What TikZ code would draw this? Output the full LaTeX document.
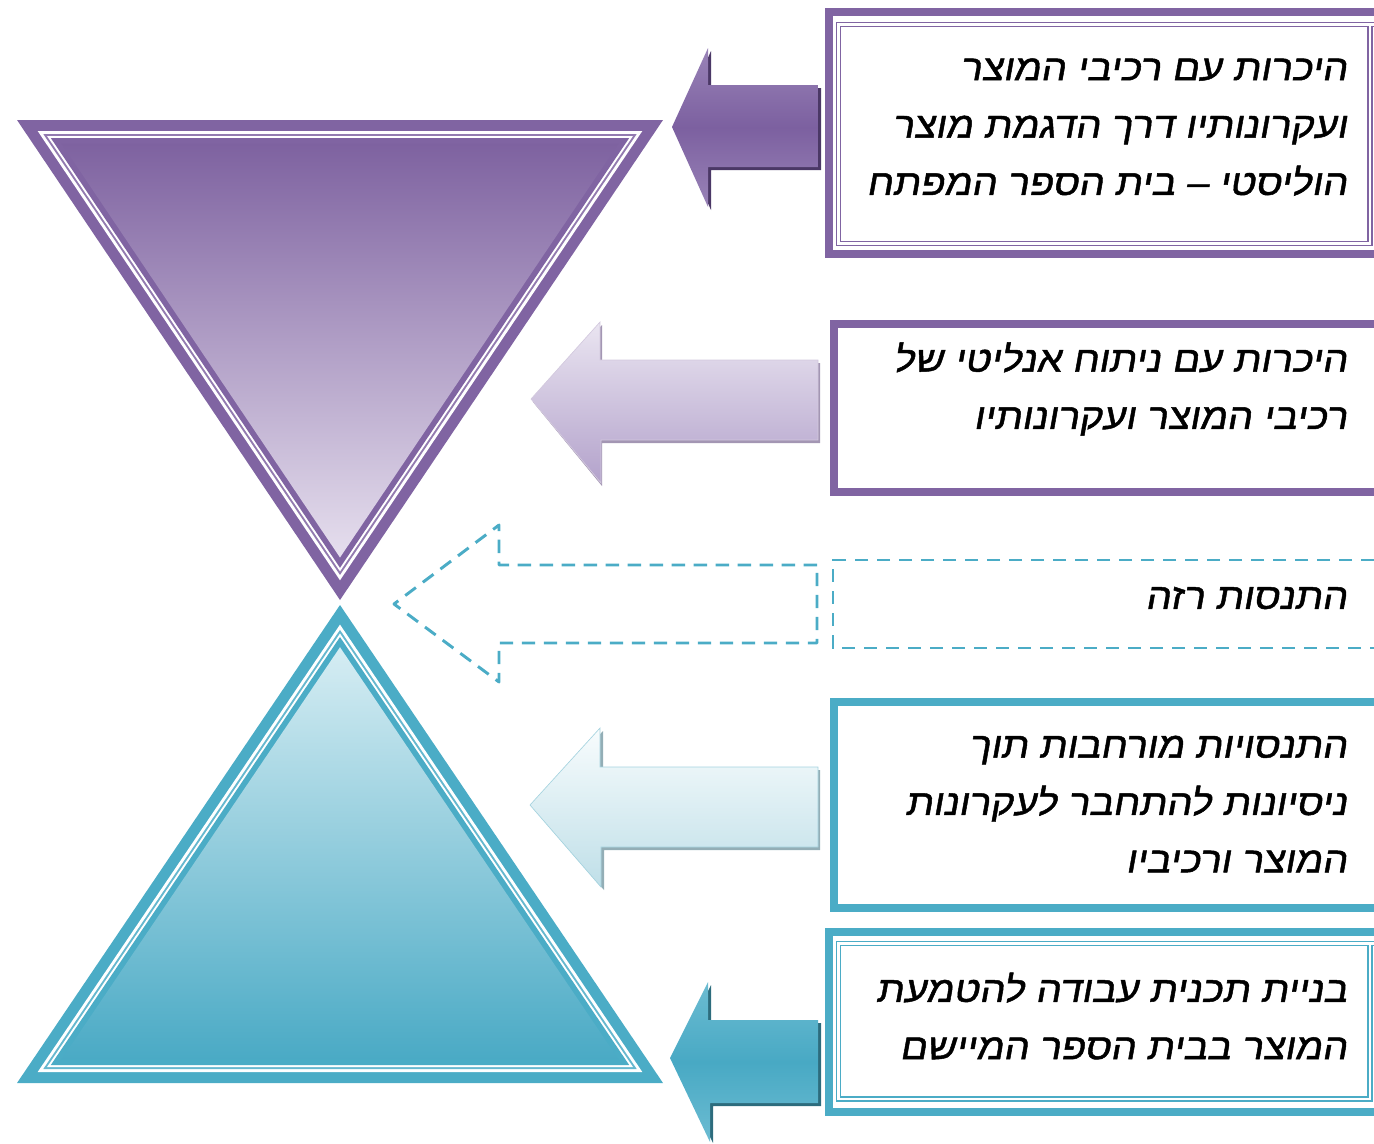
\documentclass[tikz,border=0pt]{standalone}
\usepackage{fontspec}
\newfontfamily\heb[Script=Hebrew,FakeSlant=0.18,FakeBold=1.3,FakeStretch=1.1]{Liberation Sans}
\TeXXeTstate=1
\definecolor{purp}{HTML}{8064A2}
\definecolor{purpTop}{HTML}{7E62A0}
\definecolor{purpBot}{HTML}{E6DFEE}
\definecolor{tealc}{HTML}{4BACC6}
\definecolor{tealTop}{HTML}{D6EDF3}
\definecolor{tealBot}{HTML}{4AAAC5}
\definecolor{shA}{HTML}{4B3866}
\definecolor{shB}{HTML}{A396B3}
\definecolor{shD}{HTML}{93AEB6}
\definecolor{shE}{HTML}{2D6C7D}
\definecolor{arAedge}{HTML}{9983B7}
\definecolor{arAmid}{HTML}{7C60A0}
\definecolor{arBtop}{HTML}{EAE5F1}
\definecolor{arBbot}{HTML}{B3A2CB}
\definecolor{arDtop}{HTML}{F8FCFD}
\definecolor{arDbot}{HTML}{BFDFE8}
\definecolor{arDline}{HTML}{A5D3DF}
\definecolor{arEedge}{HTML}{6CBCD2}
\definecolor{arEmid}{HTML}{48A9C4}
\newcommand\tritop{(-323,-172) -- (323,-172) -- (0,308) -- cycle}
\newcommand\tribot{(0,-306) -- (-323,172) -- (323,172) -- cycle}
\tikzset{
  txt/.style={font=\heb\fontsize{27}{43}\selectfont, align=right, inner sep=0pt, anchor=east},
  frame/.style={line width=6pt, line join=miter},
  dbl/.style={draw=#1, line width=0.9pt, double=white, double distance=2.2pt},
  dsh/.style={draw=tealc, line width=2.2pt, dash pattern=on 10pt off 6.5pt},
}
\begin{document}
\begin{tikzpicture}[x=0.75pt,y=-0.75pt]
\useasboundingbox (0,0) rectangle (1374,1143);
% ---------- top triangle ----------
\begin{scope}[shift={(340,292)}]
  \fill[purp] \tritop;
  \fill[white, scale=0.936] \tritop;
  \fill[purp!85, scale=0.9186] \tritop;
  \fill[white, scale=0.907] \tritop;
  \fill[purp, scale=0.8953] \tritop;
  \shade[top color=purpTop, bottom color=purpBot, scale=0.862] \tritop;
\end{scope}
% ---------- bottom triangle ----------
\begin{scope}[shift={(340,911)}]
  \fill[tealc] \tribot;
  \fill[white, scale=0.936] \tribot;
  \fill[tealc!85, scale=0.9186] \tribot;
  \fill[white, scale=0.907] \tribot;
  \fill[tealc, scale=0.8953] \tribot;
  \shade[top color=tealTop, bottom color=tealBot, scale=0.862] \tribot;
\end{scope}
% ---------- arrows ----------
% arrow 1
\fill[shA] (821,88) -- (711,88) -- (711,51) -- (675,130) -- (711,210) -- (711,170) -- (821,170) -- cycle;
\shade[top color=arAedge, bottom color=arAedge, middle color=arAmid]
  (818,85) -- (708,85) -- (708,48) -- (672,127) -- (708,207) -- (708,167) -- (818,167) -- cycle;
% arrow 2
\fill[shB] (820,363) -- (602,363) -- (602,325) -- (533,402) -- (602,486) -- (602,443) -- (820,443) -- cycle;
\shade[top color=arBtop, bottom color=arBbot, draw=purp!35, line width=0.5pt]
  (818,360) -- (600,360) -- (600,322) -- (531,399) -- (601,483) -- (601,440) -- (818,440) -- cycle;
% arrow 3 (dashed)
\draw[dsh, line join=round] (817,565) -- (499,565) -- (499,525) -- (394,604) -- (499,682) -- (499,643) -- (817,643) -- cycle;
% arrow 4
\fill[shD] (820,770) -- (603,770) -- (603,731) -- (533,808) -- (604,890) -- (604,850) -- (820,850) -- cycle;
\shade[top color=arDtop, bottom color=arDbot, draw=arDline, line width=0.5pt]
  (818,767) -- (600,767) -- (600,728) -- (530,805) -- (601,887) -- (601,847) -- (818,847) -- cycle;
% arrow 5
\fill[shE] (821,1023) -- (711,1023) -- (711,985) -- (673,1061) -- (713,1143) -- (713,1106) -- (821,1106) -- cycle;
\shade[top color=arEedge, bottom color=arEedge, middle color=arEmid]
  (818,1020) -- (708,1020) -- (708,982) -- (670,1058) -- (710,1142) -- (710,1103) -- (818,1103) -- cycle;
% ---------- boxes ----------
% box 1
\draw[frame, draw=purp] (1374,12) -- (829,12) -- (829,254) -- (1374,254);
\draw[dbl=purp] (1374,24.5) -- (838.5,24.5) -- (838.5,243.5) -- (1370,243.5) -- (1370,24.5);
% box 2
\draw[frame, draw=purp] (1374,324) -- (834,324) -- (834,492) -- (1374,492);
% box 3
\draw[dsh] (1374,560) -- (833,560) -- (833,648) -- (1374,648);
% box 4
\draw[frame, draw=tealc] (1374,702) -- (834,702) -- (834,908) -- (1374,908);
% box 5
\draw[frame, draw=tealc] (1374,932) -- (829,932) -- (829,1112) -- (1374,1112);
\draw[dbl=tealc] (1374,943.5) -- (838.5,943.5) -- (838.5,1099) -- (1370,1099) -- (1370,943.5);
% ---------- texts ----------
\node[txt] (t1) at (1347,127) {\beginR היכרות עם רכיבי המוצר\endR\\\beginR ועקרונותיו דרך הדגמת מוצר\endR\\\beginR הוליסטי – בית הספר המפתח\endR};
\node[txt] (t2) at (1347,389) {\beginR היכרות עם ניתוח אנליטי של\endR\\\beginR רכיבי המוצר ועקרונותיו\endR};
\node[txt] (t3) at (1347,598) {\beginR התנסות רזה\endR};
\node[txt] (t4) at (1347,804) {\beginR התנסויות מורחבות תוך\endR\\\beginR ניסיונות להתחבר לעקרונות\endR\\\beginR המוצר ורכיביו\endR};
\node[txt] (t5) at (1347,1016) {\beginR בניית תכנית עבודה להטמעת\endR\\\beginR המוצר בבית הספר המיישם\endR};
\end{tikzpicture}
\end{document}
